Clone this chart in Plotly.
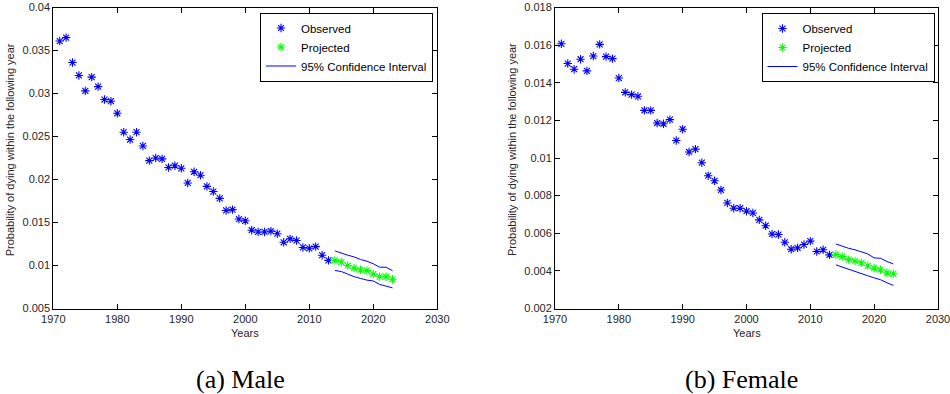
import plotly.graph_objects as go

# ---- data -----------------------------------------------------------------
obs_years = list(range(1971, 2014))
proj_years = list(range(2014, 2024))

male_observed = [
    0.0361, 0.0365, 0.0336, 0.0321, 0.0303, 0.0319, 0.0308, 0.0293, 0.0291, 0.0277,
    0.0255, 0.02465, 0.0255, 0.0239, 0.0222, 0.0225, 0.0224, 0.0214, 0.0216, 0.0213,
    0.0196, 0.0209, 0.0205, 0.0192, 0.0186, 0.0178, 0.0164, 0.0165, 0.0154, 0.0152,
    0.0141, 0.0139, 0.0139, 0.0140, 0.0137, 0.0127, 0.0131, 0.0129, 0.0121, 0.0120,
    0.0122, 0.0112, 0.0106,
]
male_projected = [0.0106, 0.0104, 0.0100, 0.0097, 0.0095, 0.0094, 0.0090, 0.0087, 0.0087, 0.0084]
male_upper = [0.0117, 0.01142, 0.0112, 0.0110, 0.0107, 0.0105, 0.0102, 0.0098, 0.0098, 0.0094]
male_lower = [0.00942, 0.0093, 0.0090, 0.0087, 0.0085, 0.0083, 0.0082, 0.0078, 0.0076, 0.0074]

female_observed = [
    0.01607, 0.01502, 0.01472, 0.01525, 0.01463, 0.01542, 0.01604, 0.01539, 0.01528, 0.01425,
    0.01349, 0.01337, 0.01328, 0.01253, 0.01253, 0.01186, 0.01182, 0.01204, 0.01093, 0.01153,
    0.01032, 0.01047, 0.00975, 0.00906, 0.00879, 0.0083, 0.00761, 0.00733, 0.00733, 0.00717,
    0.00708, 0.00671, 0.0064, 0.00596, 0.00593, 0.00552, 0.00515, 0.00522, 0.0054, 0.00558,
    0.00503, 0.00512, 0.00485,
]
female_projected = [0.00487, 0.00476, 0.0046, 0.00452, 0.00443, 0.00427, 0.00414, 0.00406, 0.0039, 0.00384]
female_upper = [0.00543, 0.00531, 0.0052, 0.00512, 0.00503, 0.0049, 0.00469, 0.00467, 0.0045, 0.00437]
female_lower = [0.00432, 0.0042, 0.00406, 0.00395, 0.00386, 0.00374, 0.00363, 0.00353, 0.00337, 0.00323]

x_ticks = [1970, 1980, 1990, 2000, 2010, 2020, 2030]
male_y_ticks = [0.005, 0.01, 0.015, 0.02, 0.025, 0.03, 0.035, 0.04]
male_y_labels = ["0.005", "0.01", "0.015", "0.02", "0.025", "0.03", "0.035", "0.04"]
female_y_ticks = [0.002, 0.004, 0.006, 0.008, 0.01, 0.012, 0.014, 0.016, 0.018]
female_y_labels = ["0.002", "0.004", "0.006", "0.008", "0.01", "0.012", "0.014", "0.016", "0.018"]

captions = ["(a) Male", "(b) Female"]
y_title = "Probability of dying within the following year"
x_title = "Years"

# ---- layout geometry (pixels) -------------------------------------------
W, H = 950, 394
PLOT_TOP, PLOT_BOTTOM = 7.5, 308.5
panels = [(53.3, 437.3), (555.0, 938.0)]

def px_x(v):
    return v / W

def px_y(v):
    return (H - v) / H

BLUE = "#0000ff"
GREEN = "#00ff00"
TICK_FONT = dict(family="Liberation Sans, Arial, sans-serif", size=11, color="#262626")

fig = go.Figure()

series = [
    (male_observed, male_projected, male_upper, male_lower, "legend"),
    (female_observed, female_projected, female_upper, female_lower, "legend2"),
]

for i, (obs, proj, up, lo, leg) in enumerate(series):
    xa = "x" if i == 0 else "x2"
    ya = "y" if i == 0 else "y2"
    fig.add_trace(go.Scatter(
        x=obs_years, y=obs, mode="markers", name="Observed",
        xaxis=xa, yaxis=ya, legend=leg,
        marker=dict(symbol="asterisk-open", size=7, color=BLUE,
                    line=dict(color=BLUE, width=1.1)),
    ))
    fig.add_trace(go.Scatter(
        x=proj_years, y=proj, mode="markers", name="Projected",
        xaxis=xa, yaxis=ya, legend=leg,
        marker=dict(symbol="asterisk-open", size=7, color=GREEN,
                    line=dict(color=GREEN, width=1.1)),
    ))
    fig.add_trace(go.Scatter(
        x=proj_years, y=up, mode="lines", name="95% Confidence Interval",
        xaxis=xa, yaxis=ya, legend=leg,
        line=dict(color=BLUE, width=1),
    ))
    fig.add_trace(go.Scatter(
        x=proj_years, y=lo, mode="lines", name="95% Confidence Interval",
        xaxis=xa, yaxis=ya, legend=leg, showlegend=False,
        line=dict(color=BLUE, width=1),
    ))

axis_common = dict(
    showline=True, linecolor="black", linewidth=1, mirror="allticks",
    ticks="inside", ticklen=5, tickcolor="black", tickwidth=1,
    showgrid=False, zeroline=False, tickfont=TICK_FONT, automargin=False,
    ticklabeloverflow="allow",
)

y_dom = [px_y(PLOT_BOTTOM), px_y(PLOT_TOP)]
for i, (left, right) in enumerate(panels):
    sfx = "" if i == 0 else "2"
    yt, yl = (male_y_ticks, male_y_labels) if i == 0 else (female_y_ticks, female_y_labels)
    fig.update_layout(**{
        f"xaxis{sfx}": dict(axis_common, domain=[px_x(left), px_x(right)],
                            range=[1970, 2030], tickvals=x_ticks,
                            ticktext=[str(t) for t in x_ticks],
                            anchor="y" + sfx),
        f"yaxis{sfx}": dict(axis_common, domain=y_dom,
                            range=[yt[0], yt[-1]], tickvals=yt, ticktext=yl,
                            anchor="x" + sfx),
    })

legend_style = dict(
    bgcolor="white", bordercolor="black", borderwidth=1,
    font=dict(family="Liberation Sans, Arial, sans-serif", size=11.5, color="black"),
    xanchor="right", yanchor="top", tracegroupgap=0, itemwidth=30,
)
fig.update_layout(
    legend=dict(legend_style, x=px_x(433), y=px_y(12.5)),
    legend2=dict(legend_style, x=px_x(934.5), y=px_y(13)),
)

annotations = []
label_font = dict(family="Liberation Sans, Arial, sans-serif", size=11, color="#262626")
for i, (left, right) in enumerate(panels):
    cx = (left + right) / 2
    annotations.append(dict(
        text=y_title, xref="paper", yref="paper",
        x=px_x(left - 43), y=px_y(150), textangle=-90,
        showarrow=False, font=label_font, xanchor="center", yanchor="middle",
    ))
    annotations.append(dict(
        text=x_title, xref="paper", yref="paper",
        x=px_x(cx), y=px_y(333), showarrow=False, font=label_font,
        xanchor="center", yanchor="middle",
    ))
    annotations.append(dict(
        text=captions[i], xref="paper", yref="paper",
        x=px_x(cx - 5), y=px_y(379), showarrow=False,
        font=dict(family="Liberation Serif, Times New Roman, serif", size=26, color="black"),
        xanchor="center", yanchor="middle",
    ))

fig.update_layout(
    width=W, height=H, margin=dict(l=0, r=0, t=0, b=0, autoexpand=False),
    paper_bgcolor="white", plot_bgcolor="white",
    annotations=annotations, showlegend=True,
)

fig.write_html("out.html")
